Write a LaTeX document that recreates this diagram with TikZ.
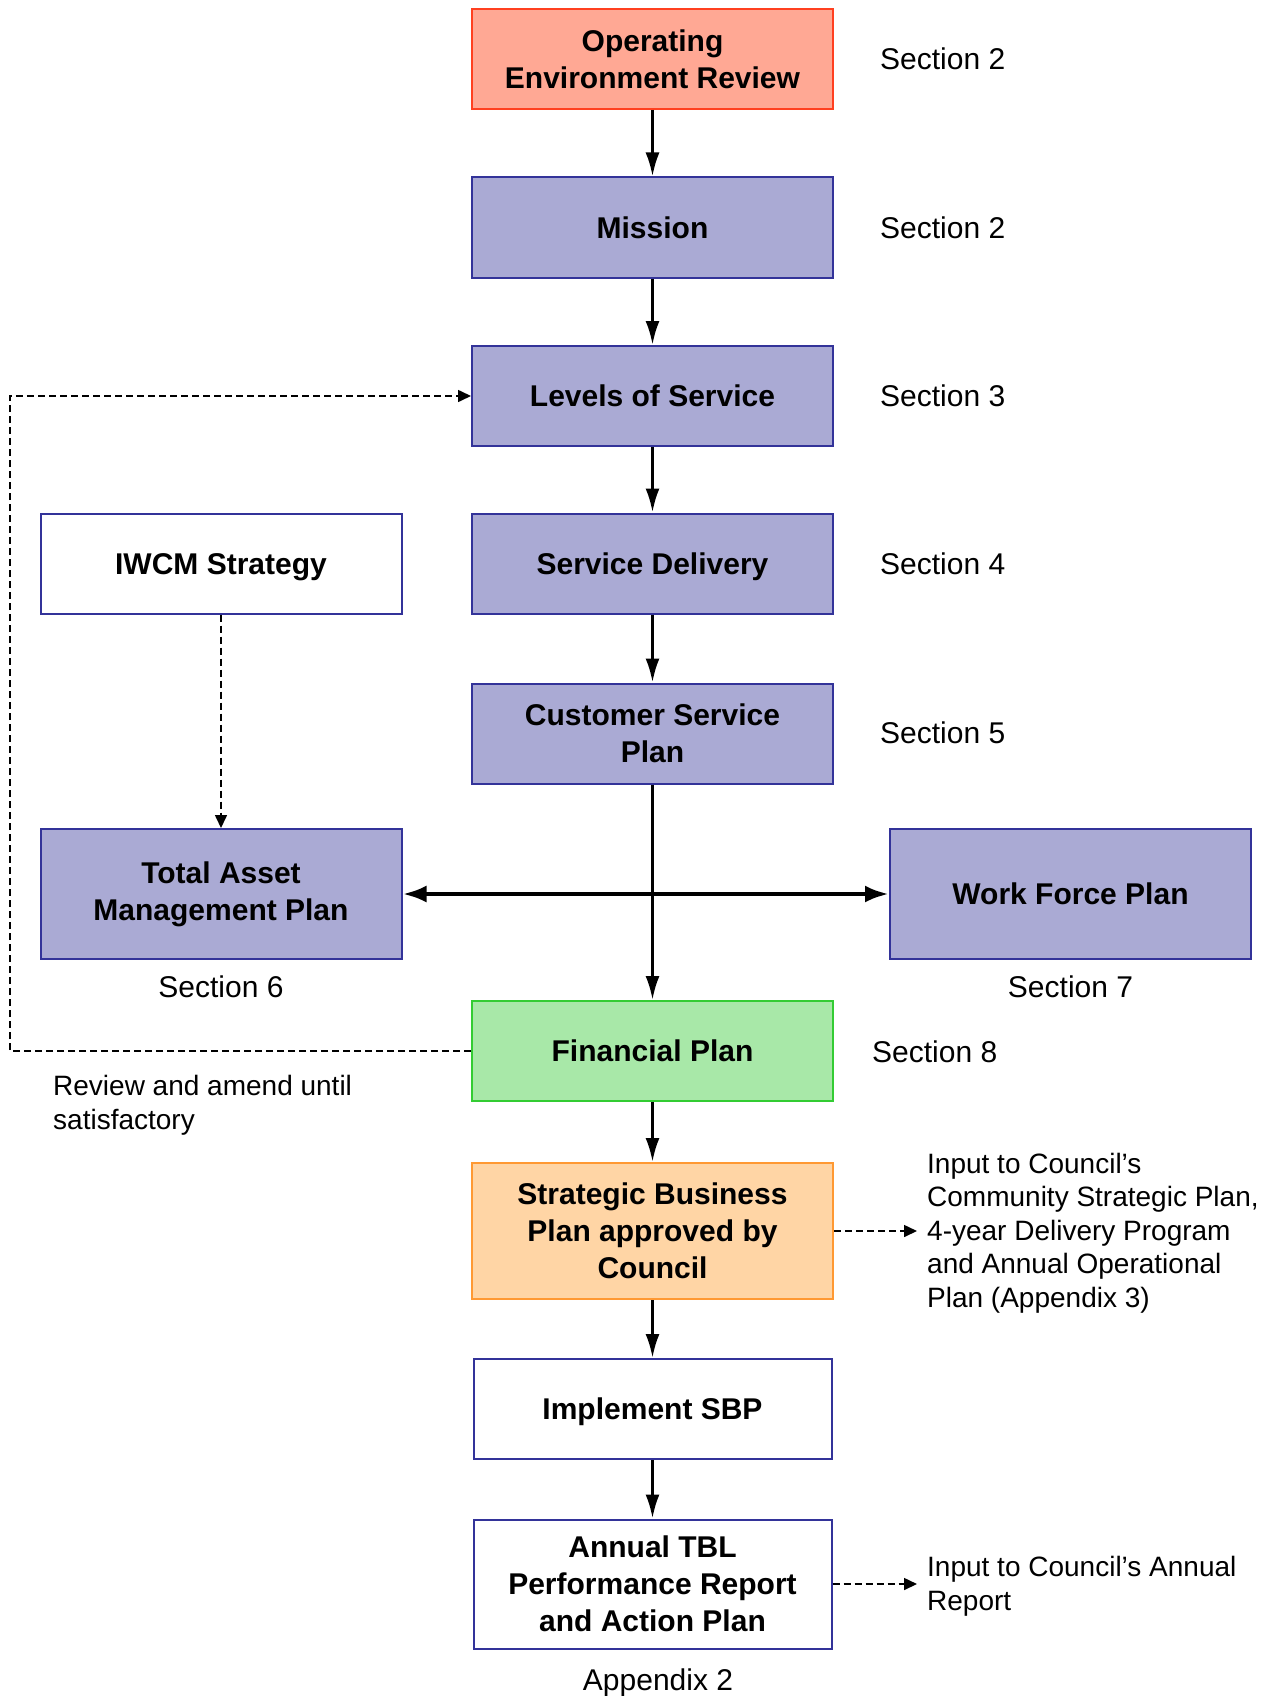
\documentclass[tikz,border=0pt]{standalone}
\usepackage{fontspec}
\setmainfont{Liberation Sans}
\usetikzlibrary{arrows.meta, positioning}
\definecolor{salmonfill}{RGB}{255,168,148}
\definecolor{salmonline}{RGB}{255,64,32}
\definecolor{lavender}{RGB}{170,170,212}
\definecolor{navyline}{RGB}{51,51,153}
\definecolor{mintfill}{RGB}{168,232,168}
\definecolor{mintline}{RGB}{51,204,51}
\definecolor{peachfill}{RGB}{255,213,165}
\definecolor{peachline}{RGB}{255,153,51}

\tikzset{
  box/.style={draw=navyline, fill=lavender, line width=2pt, minimum width=361pt,
    minimum height=100pt, inner sep=0pt, align=center,
    font=\bfseries\fontsize{30}{37}\selectfont},
  oneline/.style={text height=21.5pt, text depth=0pt},
  label/.style={inner sep=0pt, font=\fontsize{30}{34}\selectfont},
  note/.style={inner sep=0pt, align=left, font=\fontsize{28}{33.5}\selectfont},
  flow/.style={line width=3pt, -{Latex[length=24pt,width=14pt]}},
  feed/.style={line width=1.6pt, dash pattern=on 7pt off 4pt,
    -{Triangle[length=13pt,width=12pt]}}
}

\begin{document}
\begin{tikzpicture}[x=1pt, y=-1pt]

    \useasboundingbox (0,0) rectangle (1266,1696);

    % main column
    \node[box, fill=salmonfill, draw=salmonline] (oer) at (652.5,59) {Operating\\Environment Review};
    \node[box, oneline] (mission) at (652.5,227.5) {Mission};
    \node[box, oneline] (los) at (652.5,396) {Levels of Service};
    \node[box, oneline] (sd) at (652.5,563.5) {Service Delivery};
    \node[box] (csp) at (652.5,733.5) {Customer Service\\Plan};
    \node[box, oneline, fill=mintfill, draw=mintline] (fin) at (652.5,1051) {Financial Plan};
    \node[box, fill=peachfill, draw=peachline, minimum height=136pt] (sbp) at (652.5,1231) {Strategic Business\\Plan approved by\\Council};
    \node[box, oneline, fill=white, minimum width=358pt] (impl) at (652.5,1409) {Implement SBP};
    \node[box, fill=white, minimum width=358pt, minimum height=129pt] (tbl) at (652.5,1584) {Annual TBL\\Performance Report\\and Action Plan};

    % side boxes
    \node[box, oneline, fill=white] (iwcm) at (221,563.5) {IWCM Strategy};
    \node[box, minimum height=130pt] (tamp) at (221,894) {Total Asset\\Management Plan};
    \node[box, oneline, minimum height=130pt] (wfp) at (1070.5,894) {Work Force Plan};

    % section labels
    \node[label, anchor=west] (s1) at (880,59) {Section 2};
    \node[label, anchor=west] (s2) at (880,227.5) {Section 2};
    \node[label, anchor=west] (s3) at (880,396) {Section 3};
    \node[label, anchor=west] (s4) at (880,563.5) {Section 4};
    \node[label, anchor=west] (s5) at (880,732.5) {Section 5};
    \node[label] (s6) at (221,987) {Section 6};
    \node[label] (s7) at (1070.5,987) {Section 7};
    \node[label, anchor=west] (s8) at (872,1052) {Section 8};
    \node[label] (app2) at (658,1683) {Appendix 2};

    \node[note, anchor=west] (review) at (53,1105) {Review and amend until\\satisfactory};
    \node[note, anchor=west] (csp-in) at (927,1233) {Input to Council’s\\Community Strategic Plan,\\4-year Delivery Program\\and Annual Operational\\Plan (Appendix 3)};
    \node[note, anchor=west] (ar-in) at (927,1586) {Input to Council’s Annual\\Report};

    % connectors
    \draw[flow] (oer) -- (mission);
    \draw[flow] (mission) -- (los);
    \draw[flow] (los) -- (sd);
    \draw[flow] (sd) -- (csp);
    \draw[flow] (csp) -- (fin);
    \draw[flow] (fin) -- (sbp);
    \draw[flow] (sbp) -- (impl);
    \draw[flow] (impl) -- (tbl);
    \draw[line width=4.5pt, {Latex[length=24pt,width=17pt]}-{Latex[length=24pt,width=17pt]}] (tamp) -- (wfp);

    \draw[feed] (iwcm) -- (tamp);
    \draw[feed] (fin.west) -- (10,1051) -- (10,396) -- (los.west);
    \draw[feed] (sbp.east) -- ([xshift=-10pt]csp-in.west |- sbp.east);
    \draw[feed] (tbl.east) -- ([xshift=-10pt]ar-in.west |- tbl.east);

  \end{tikzpicture}
\end{document}
